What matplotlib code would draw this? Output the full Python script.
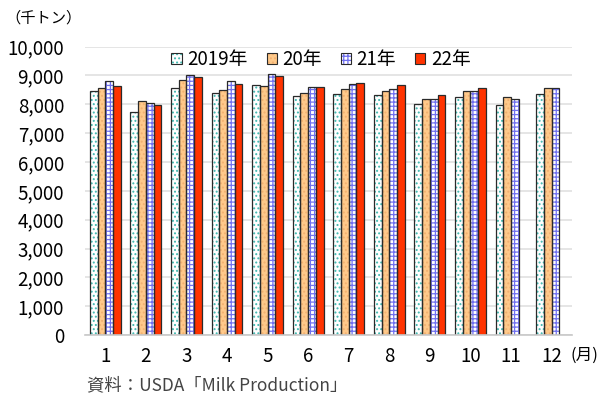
import numpy as np
import matplotlib
matplotlib.use('Agg')
import matplotlib.pyplot as plt
from matplotlib.patches import Patch

plt.rcParams['font.family'] = ['Noto Sans CJK JP', 'DejaVu Sans']
plt.rcParams['hatch.linewidth'] = 0.9

months = ['1', '2', '3', '4', '5', '6', '7', '8', '9', '10', '11', '12']
labels = ['2019年', '20年', '21年', '22年']

# 月別生乳生産量（千トン）
y2019 = [8450, 7720, 8560, 8390, 8670, 8280, 8350, 8310, 8010, 8250, 7970, 8350]
y2020 = [8570, 8130, 8830, 8490, 8620, 8380, 8530, 8460, 8190, 8460, 8240, 8570]
y2021 = [8790, 8040, 9000, 8790, 9035, 8610, 8690, 8520, 8190, 8460, 8190, 8550]
y2022 = [8650, 7960, 8950, 8710, 8980, 8600, 8730, 8670, 8310, 8570]

series = [y2019, y2020, y2021, y2022]
faces = ['white', '#FFC98A', 'white', '#FF3300']
hatches = ['....', '....', '++++', None]
hatch_cols = ['#40B8B0', '#F2B070', '#7070F0', '#FF3300']
outline = '#2A2A2A'

fig = plt.figure(figsize=(6.11, 3.98), dpi=100)
ax = fig.add_axes([0.139, 0.158, 0.797, 0.725])

x = np.arange(1, 13)
w = 0.19
for i, vals in enumerate(series):
    xs = x[:len(vals)] + (i - 1.5) * w
    # fill + hatch first, then the dark outline on top
    ax.bar(xs, vals, w, color=faces[i], edgecolor=hatch_cols[i], hatch=hatches[i],
           linewidth=0, zorder=3)
    ax.bar(xs, vals, w, fill=False, edgecolor=outline, linewidth=0.9, zorder=4)

ax.set_xlim(0.5, 12.5)
ax.set_ylim(0, 10000)
ax.set_yticks(np.arange(0, 10001, 1000))
ax.set_yticklabels([f'{v:,}' for v in range(0, 10001, 1000)])
ax.set_xticks(x)
ax.set_xticklabels(months)
ax.tick_params(axis='both', length=0, labelsize=13.5, colors='black')
ax.tick_params(axis='x', pad=8)
ax.tick_params(axis='y', pad=15)
ax.grid(axis='y', color='#E0E0E0', linewidth=1.2, zorder=0)
for s in ['left', 'right', 'top']:
    ax.spines[s].set_visible(False)
ax.spines['bottom'].set_color('#C8C8C8')
ax.spines['bottom'].set_linewidth(1.2)
ax.spines['bottom'].set_zorder(5)

# legend keys: coloured hatch with a dark outline laid over it
handles = [(Patch(facecolor=faces[i], edgecolor=hatch_cols[i], hatch=hatches[i], linewidth=0),
            Patch(fill=False, edgecolor=outline, linewidth=0.8))
           for i in range(4)]
leg = ax.legend(handles, labels, ncol=4, loc='upper center', bbox_to_anchor=(0.485, 1.018),
                frameon=False, fontsize=13.5, handlelength=0.55, handleheight=0.55,
                handletextpad=0.3, columnspacing=1.0, borderaxespad=0)
leg.set_zorder(10)

fig.text(0.008, 0.955, '（千トン）', fontsize=11, ha='left', va='center')
fig.text(0.933, 0.108, '(月)', fontsize=12, ha='left', va='center')
fig.text(0.142, 0.032, '資料：USDA「Milk Production」', fontsize=12.5, color='#444444',
         ha='left', va='center')

fig.savefig('out.png', dpi=100)
